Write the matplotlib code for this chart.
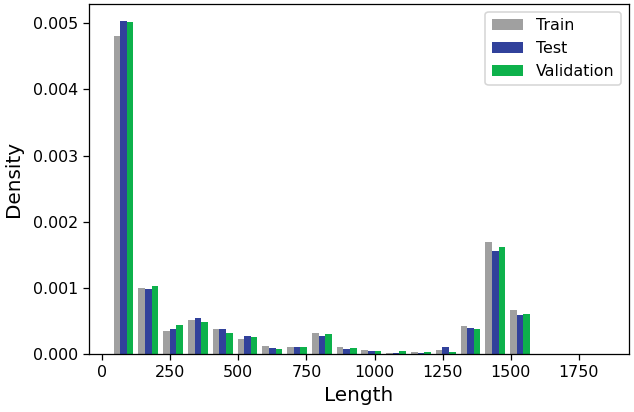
import numpy as np
import matplotlib
matplotlib.use('Agg')
import matplotlib.pyplot as plt

# histogram bins (20 equal bins over the length range)
bin_lo = 33
bin_hi = 1853
n_bins = 20

labels = ['Train', 'Test', 'Validation']
colors = ['#a0a0a0', '#31419b', '#0db14b']

# density per bin
train = [0.00481, 0.000997, 0.000347, 0.000508, 0.000372, 0.000226, 0.000116,
         0.000110, 0.000312, 0.000103, 0.000053, 0.000017, 0.000032, 0.000062,
         0.000430, 0.001700, 0.000668, 0.0, 0.0, 0.0]
test = [0.00504, 0.000976, 0.000377, 0.000548, 0.000377, 0.000266, 0.000095,
        0.000106, 0.000277, 0.000083, 0.000042, 0.000017, 0.000017, 0.000103,
        0.000390, 0.001560, 0.000597, 0.0, 0.0, 0.0]
validation = [0.00502, 0.00103, 0.000443, 0.000478, 0.000317, 0.000257, 0.000080,
              0.000106, 0.000297, 0.000098, 0.000042, 0.000038, 0.000027, 0.000032,
              0.000380, 0.001620, 0.000612, 0.0, 0.0, 0.0]

DPI = 114


def plot_hist():
    edges = np.linspace(bin_lo, bin_hi, n_bins + 1)
    centers = (edges[:-1] + edges[1:]) / 2
    fig = plt.figure(figsize=(634 / DPI, 412 / DPI), dpi=DPI)
    ax = fig.add_axes([89 / 634, 1 - 354 / 412, 540 / 634, 350 / 412])
    ax.hist([centers] * 3, bins=edges, weights=[train, test, validation],
            color=colors, label=labels)
    ax.set_xlabel('Length', fontsize=12.6)
    ax.set_ylabel('Density', fontsize=12.6, labelpad=6)
    ax.tick_params(labelsize=10)
    ax.set_yticks([0, 0.001, 0.002, 0.003, 0.004, 0.005])
    ax.yaxis.set_major_formatter(matplotlib.ticker.FormatStrFormatter('%.3f'))
    ax.legend(loc='upper right', fontsize=10)
    fig.savefig('out.png', dpi=DPI)


plot_hist()
